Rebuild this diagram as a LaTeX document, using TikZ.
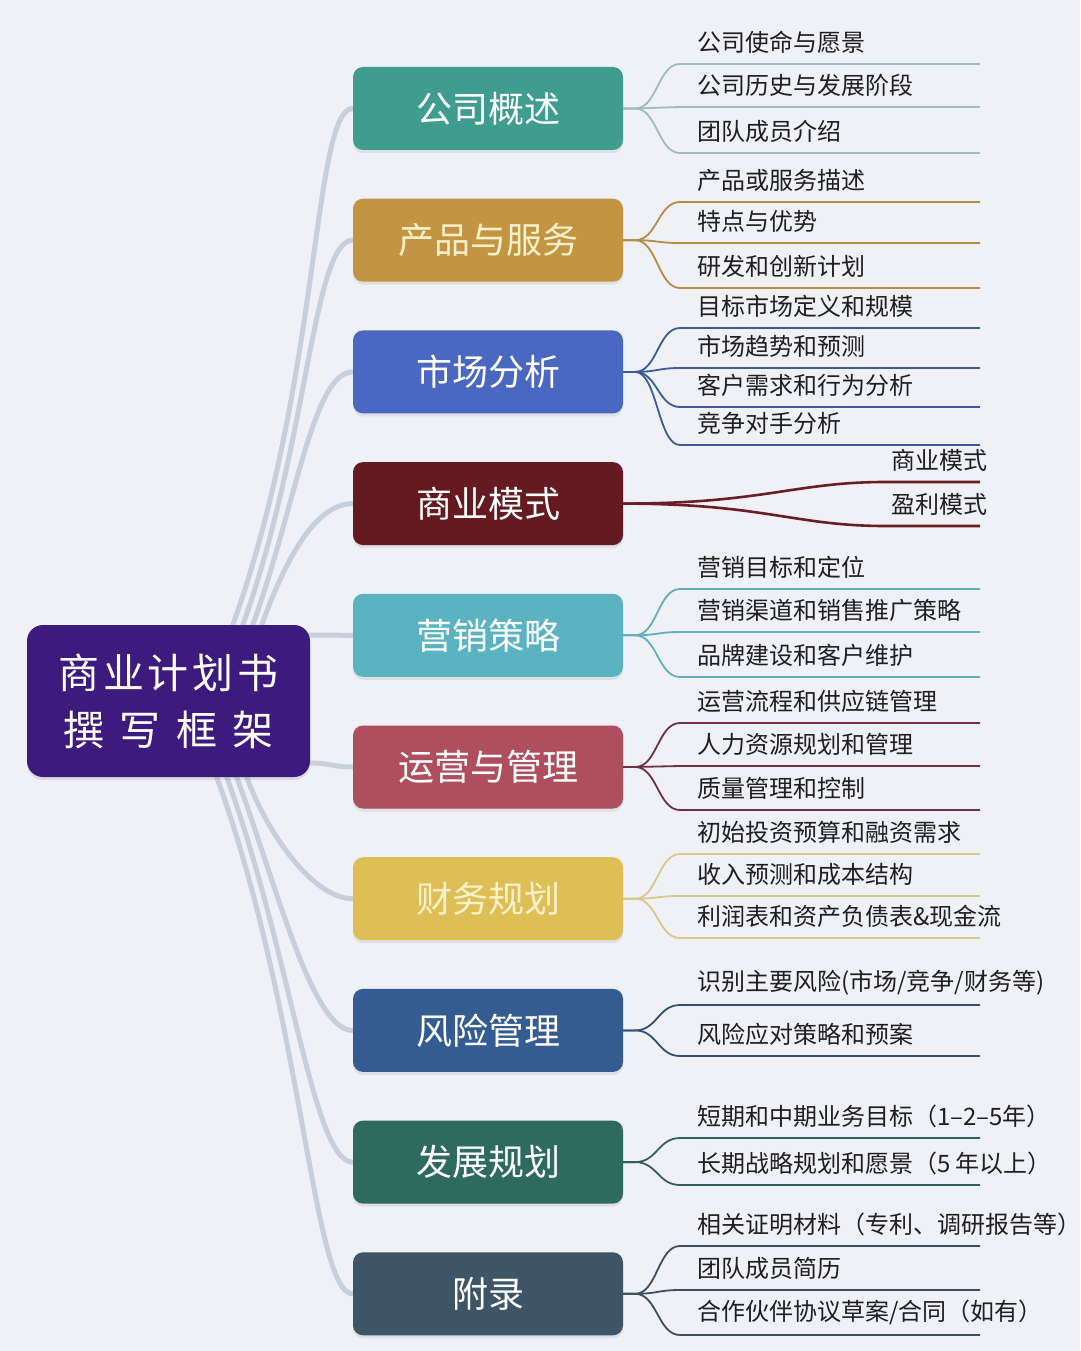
\documentclass[tikz,border=0pt]{standalone}
\usepackage{fontspec}
\setmainfont{Noto Sans CJK SC}
\usepackage{tikz}
\usetikzlibrary{positioning,calc,shadows,backgrounds}
\definecolor{bgcol}{HTML}{EFF1F6}
\definecolor{hubcol}{HTML}{3D1B7E}
\definecolor{trunkcol}{HTML}{C6CFDB}
\definecolor{cream}{HTML}{FBF1CC}
\definecolor{cgaishu}{HTML}{3E9D8E}
\definecolor{cchanpin}{HTML}{C39542}
\definecolor{cshichang}{HTML}{4A67C2}
\definecolor{cmoshi}{HTML}{641A20}
\definecolor{cyingxiao}{HTML}{5BB3C2}
\definecolor{cyunying}{HTML}{AE4E5E}
\definecolor{ccaiwu}{HTML}{DDBF55}
\definecolor{cfengxian}{HTML}{345C93}
\definecolor{cfazhan}{HTML}{2E6B5E}
\definecolor{cfulu}{HTML}{3E5567}
\definecolor{tw1}{HTML}{9DBDB8}
\definecolor{tw2}{HTML}{B38C45}
\definecolor{tw3}{HTML}{3C5B9C}
\definecolor{tw4}{HTML}{6B1D26}
\definecolor{tw5}{HTML}{62AFBB}
\definecolor{tw6}{HTML}{6E3040}
\definecolor{tw7}{HTML}{D6C98A}
\definecolor{tw8}{HTML}{30507A}
\definecolor{tw9}{HTML}{33625A}
\definecolor{tw10}{HTML}{3D4F5E}
\tikzstyle{hub}=[rectangle,rounded corners=16pt,fill=hubcol,text=white,
               minimum width=283pt,minimum height=152pt,align=center,
               font=\fontsize{41}{57}\selectfont,
               drop shadow={opacity=.18,shadow xshift=0pt,shadow yshift=-3pt}]
\tikzstyle{topic}=[rectangle,rounded corners=10pt,text=white,
               minimum width=270pt,minimum height=83pt,
               font=\fontsize{36}{40}\selectfont,
               drop shadow={opacity=.15,shadow xshift=0pt,shadow yshift=-3pt}]
\tikzstyle{leaf}=[inner sep=0pt,text=black!88,font=\fontsize{24}{28}\selectfont]
\tikzstyle{trunk}=[draw=trunkcol,line width=5pt,line cap=round]
\tikzset{twig/.style={draw=#1,line width=1.8pt}}

\begin{document}
\begin{tikzpicture}[x=1pt,y=-1pt]
\useasboundingbox (0,0) rectangle (1080,1351);
% centre and main topics
\node[hub] (plan) at (168.5,701) {\hbox to 220pt{商\hfil 业\hfil 计\hfil 划\hfil 书}\\
                                  \hbox to 210pt{撰\hfil 写\hfil 框\hfil 架}};
\node[topic,fill=cgaishu] (gaishu) at (488,108.5) {公司概述};
\node[topic,fill=cchanpin,text=cream,below=48.3pt of gaishu] (chanpin) {产品与服务};
\node[topic,fill=cshichang,below=48.3pt of chanpin] (shichang) {市场分析};
\node[topic,fill=cmoshi,below=48.3pt of shichang] (moshi) {商业模式};
\node[topic,fill=cyingxiao,below=48.3pt of moshi] (yingxiao) {营销策略};
\node[topic,fill=cyunying,below=48.3pt of yingxiao] (yunying) {运营与管理};
\node[topic,fill=ccaiwu,text=cream,below=48.3pt of yunying] (caiwu) {财务规划};
\node[topic,fill=cfengxian,below=48.3pt of caiwu] (fengxian) {风险管理};
\node[topic,fill=cfazhan,below=48.3pt of fengxian] (fazhan) {发展规划};
\node[topic,fill=cfulu,below=48.3pt of fazhan] (fulu) {附录};
\coordinate (rim) at (980,0);

% sub topics
\foreach \y/\t [count=\k] in {64/公司使命与愿景, 107/公司历史与发展阶段, 153/团队成员介绍}{
  \coordinate (g1-\k) at (680,\y);
  \node[leaf,above right=10pt and 17pt of g1-\k] (l1-\k) {\t};
  \draw[twig=tw1] (gaishu.east) -- ++(12,0) .. controls +(22,0) and +(-22,0) .. (g1-\k) -- (g1-\k -| rim);
}
\foreach \y/\t [count=\k] in {202/产品或服务描述, 243/特点与优势, 288/研发和创新计划}{
  \coordinate (g2-\k) at (680,\y);
  \node[leaf,above right=10pt and 17pt of g2-\k] (l2-\k) {\t};
  \draw[twig=tw2] (chanpin.east) -- ++(12,0) .. controls +(22,0) and +(-22,0) .. (g2-\k) -- (g2-\k -| rim);
}
\foreach \y/\t [count=\k] in {328/目标市场定义和规模, 368/市场趋势和预测, 407/客户需求和行为分析, 445/竞争对手分析}{
  \coordinate (g3-\k) at (680,\y);
  \node[leaf,above right=10pt and 17pt of g3-\k] (l3-\k) {\t};
  \draw[twig=tw3] (shichang.east) -- ++(12,0) .. controls +(22,0) and +(-22,0) .. (g3-\k) -- (g3-\k -| rim);
}
\foreach \y/\t [count=\k] in {482/商业模式, 526/盈利模式}{
  \coordinate (g4-\k) at (980,\y);
  \node[leaf,above left=10pt and -8pt of g4-\k] (l4-\k) {\t};
  \draw[twig=tw4,line width=2.6pt] (moshi.east) .. controls +(140,0) and +(-90,0) .. ($(g4-\k)+(-95,0)$) -- (g4-\k);
}
\foreach \y/\t [count=\k] in {589/营销目标和定位, 632/营销渠道和销售推广策略, 677/品牌建设和客户维护}{
  \coordinate (g5-\k) at (680,\y);
  \node[leaf,above right=10pt and 17pt of g5-\k] (l5-\k) {\t};
  \draw[twig=tw5] (yingxiao.east) -- ++(12,0) .. controls +(22,0) and +(-22,0) .. (g5-\k) -- (g5-\k -| rim);
}
\foreach \y/\t [count=\k] in {723/运营流程和供应链管理, 766/人力资源规划和管理, 810/质量管理和控制}{
  \coordinate (g6-\k) at (680,\y);
  \node[leaf,above right=10pt and 17pt of g6-\k] (l6-\k) {\t};
  \draw[twig=tw6] (yunying.east) -- ++(12,0) .. controls +(22,0) and +(-22,0) .. (g6-\k) -- (g6-\k -| rim);
}
\foreach \y/\t [count=\k] in {854/初始投资预算和融资需求, 896/收入预测和成本结构, 938/利润表和资产负债表\&现金流}{
  \coordinate (g7-\k) at (680,\y);
  \node[leaf,above right=10pt and 17pt of g7-\k] (l7-\k) {\t};
  \draw[twig=tw7] (caiwu.east) -- ++(12,0) .. controls +(22,0) and +(-22,0) .. (g7-\k) -- (g7-\k -| rim);
}
\foreach \y/\t [count=\k] in {1005/{识别主要风险(市场/竞争/财务等)}, 1056/风险应对策略和预案}{
  \coordinate (g8-\k) at (680,\y);
  \node[leaf,above right=10pt and 17pt of g8-\k] (l8-\k) {\t};
  \draw[twig=tw8] (fengxian.east) -- ++(12,0) .. controls +(22,0) and +(-22,0) .. (g8-\k) -- (g8-\k -| rim);
}
\foreach \y/\t [count=\k] in {1138/短期和中期业务目标（1–2–5年）, 1185/长期战略规划和愿景（5 年以上）}{
  \coordinate (g9-\k) at (680,\y);
  \node[leaf,above right=10pt and 17pt of g9-\k] (l9-\k) {\t};
  \draw[twig=tw9] (fazhan.east) -- ++(12,0) .. controls +(22,0) and +(-22,0) .. (g9-\k) -- (g9-\k -| rim);
}
\foreach \y/\t [count=\k] in {1246/相关证明材料（专利、调研报告等）, 1290/团队成员简历, 1335/{合作伙伴协议草案/合同（如有）}}{
  \coordinate (g10-\k) at (680,\y);
  \node[leaf,above right=10pt and 17pt of g10-\k] (l10-\k) {\t};
  \draw[twig=tw10] (fulu.east) -- ++(12,0) .. controls +(22,0) and +(-22,0) .. (g10-\k) -- (g10-\k -| rim);
}

% trunk lines behind everything
\begin{scope}[on background layer]
  \fill[bgcol] (0,0) rectangle (1080,1351);
  \foreach \b/\s/\h in {gaishu/206/517, chanpin/216/386, shichang/226/254, moshi/235/123}
    \draw[trunk] ([xshift=\s pt]plan.north west) .. controls +({0.17*\h},{-0.47*\h}) and +(-40,0) .. (\b.west);
  \foreach \b/\s/\h in {caiwu/220/118, fengxian/210/249, fazhan/200/381, fulu/190/512}
    \draw[trunk] ([xshift=\s pt]plan.south west) .. controls +({0.17*\h},{0.47*\h}) and +(-40,0) .. (\b.west);
  \draw[trunk] ($(plan.east)+(0,-66)$) .. controls +(20,0) and +(-20,0) .. (yingxiao.west);
  \draw[trunk] ($(plan.east)+(0,62)$) .. controls +(20,0) and +(-20,0) .. (yunying.west);
\end{scope}
\end{tikzpicture}
\end{document}
